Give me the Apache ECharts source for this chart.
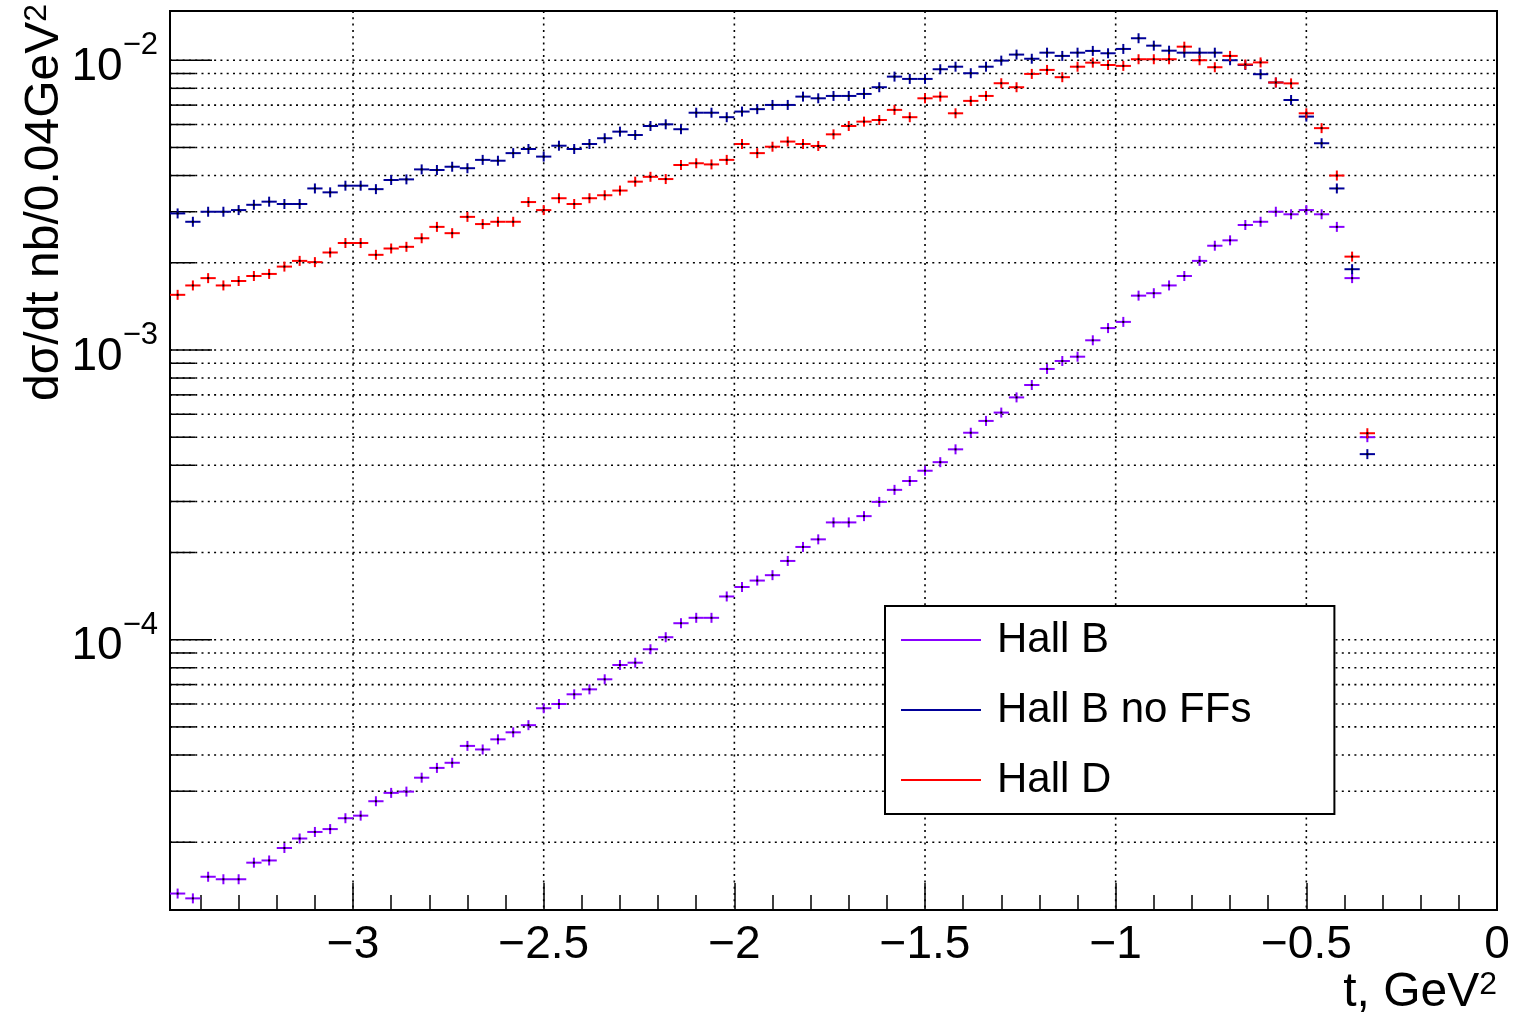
<!DOCTYPE html>
<html>
<head>
<meta charset="utf-8">
<script src="https://cdn.jsdelivr.net/npm/echarts@6/dist/echarts.min.js"></script>
<style>
html, body { margin: 0; padding: 0; background: #fff; }
#chart { width: 1515px; height: 1019px; }
</style>
</head>
<body>
<div id="chart"></div>
<script>
// bin centres, t in GeV^2 (bins of 0.04)
var tBins = [-3.46, -3.42, -3.38, -3.34, -3.30, -3.26, -3.22, -3.18, -3.14, -3.10,
             -3.06, -3.02, -2.98, -2.94, -2.90, -2.86, -2.82, -2.78, -2.74, -2.70,
             -2.66, -2.62, -2.58, -2.54, -2.50, -2.46, -2.42, -2.38, -2.34, -2.30,
             -2.26, -2.22, -2.18, -2.14, -2.10, -2.06, -2.02, -1.98, -1.94, -1.90,
             -1.86, -1.82, -1.78, -1.74, -1.70, -1.66, -1.62, -1.58, -1.54, -1.50,
             -1.46, -1.42, -1.38, -1.34, -1.30, -1.26, -1.22, -1.18, -1.14, -1.10,
             -1.06, -1.02, -0.98, -0.94, -0.90, -0.86, -0.82, -0.78, -0.74, -0.70,
             -0.66, -0.62, -0.58, -0.54, -0.50, -0.46, -0.42, -0.38, -0.34];

var hallB = [1.33e-5, 1.28e-5, 1.52e-5, 1.49e-5, 1.49e-5, 1.70e-5, 1.73e-5, 1.91e-5, 2.06e-5, 2.17e-5,
             2.22e-5, 2.42e-5, 2.47e-5, 2.77e-5, 2.96e-5, 2.99e-5, 3.34e-5, 3.61e-5, 3.76e-5, 4.30e-5,
             4.18e-5, 4.53e-5, 4.79e-5, 5.07e-5, 5.80e-5, 6.00e-5, 6.48e-5, 6.74e-5, 7.30e-5, 8.18e-5,
             8.33e-5, 9.27e-5, 1.02e-4, 1.14e-4, 1.19e-4, 1.19e-4, 1.41e-4, 1.52e-4, 1.60e-4, 1.67e-4,
             1.87e-4, 2.09e-4, 2.22e-4, 2.54e-4, 2.54e-4, 2.67e-4, 2.99e-4, 3.29e-4, 3.53e-4, 3.83e-4,
             4.10e-4, 4.54e-4, 5.18e-4, 5.69e-4, 6.08e-4, 6.86e-4, 7.57e-4, 8.60e-4, 9.16e-4, 9.48e-4,
             1.08e-3, 1.19e-3, 1.25e-3, 1.54e-3, 1.57e-3, 1.67e-3, 1.80e-3, 2.03e-3, 2.29e-3, 2.39e-3,
             2.70e-3, 2.77e-3, 3.00e-3, 2.94e-3, 3.04e-3, 2.94e-3, 2.66e-3, 1.77e-3, 5.00e-4];

var hallBnoFF = [2.96e-3, 2.77e-3, 3.00e-3, 3.00e-3, 3.04e-3, 3.17e-3, 3.25e-3, 3.19e-3, 3.19e-3, 3.61e-3,
                 3.50e-3, 3.69e-3, 3.69e-3, 3.59e-3, 3.86e-3, 3.88e-3, 4.20e-3, 4.18e-3, 4.29e-3, 4.24e-3,
                 4.53e-3, 4.50e-3, 4.78e-3, 4.94e-3, 4.65e-3, 5.07e-3, 4.94e-3, 5.14e-3, 5.38e-3, 5.67e-3,
                 5.52e-3, 5.93e-3, 6.01e-3, 5.78e-3, 6.59e-3, 6.59e-3, 6.36e-3, 6.65e-3, 6.78e-3, 7.01e-3,
                 7.01e-3, 7.49e-3, 7.39e-3, 7.53e-3, 7.53e-3, 7.65e-3, 8.07e-3, 8.78e-3, 8.62e-3, 8.62e-3,
                 9.31e-3, 9.50e-3, 9.02e-3, 9.50e-3, 9.97e-3, 1.046e-2, 1.012e-2, 1.062e-2, 1.035e-2, 1.062e-2,
                 1.077e-2, 1.057e-2, 1.094e-2, 1.191e-2, 1.123e-2, 1.079e-2, 1.062e-2, 1.062e-2, 1.062e-2, 1.00e-2,
                 9.63e-3, 8.95e-3, 8.38e-3, 7.29e-3, 6.39e-3, 5.17e-3, 3.61e-3, 1.90e-3, 4.37e-4];

var hallD = [1.55e-3, 1.67e-3, 1.77e-3, 1.67e-3, 1.73e-3, 1.80e-3, 1.83e-3, 1.94e-3, 2.03e-3, 2.01e-3,
             2.17e-3, 2.34e-3, 2.34e-3, 2.13e-3, 2.24e-3, 2.27e-3, 2.43e-3, 2.66e-3, 2.53e-3, 2.88e-3,
             2.72e-3, 2.77e-3, 2.77e-3, 3.24e-3, 3.04e-3, 3.34e-3, 3.19e-3, 3.34e-3, 3.42e-3, 3.55e-3,
             3.81e-3, 3.96e-3, 3.89e-3, 4.35e-3, 4.41e-3, 4.37e-3, 4.53e-3, 5.14e-3, 4.78e-3, 5.03e-3,
             5.24e-3, 5.14e-3, 5.06e-3, 5.55e-3, 5.93e-3, 6.14e-3, 6.22e-3, 6.74e-3, 6.36e-3, 7.39e-3,
             7.49e-3, 6.56e-3, 7.24e-3, 7.53e-3, 8.33e-3, 8.07e-3, 8.97e-3, 9.26e-3, 8.74e-3, 9.50e-3,
             9.81e-3, 9.63e-3, 9.56e-3, 1.008e-2, 1.008e-2, 1.008e-2, 1.114e-2, 1.000e-2, 9.46e-3, 1.035e-2,
             9.67e-3, 9.83e-3, 8.38e-3, 8.32e-3, 6.56e-3, 5.83e-3, 4.00e-3, 2.10e-3, 5.16e-4];

// axis ticks
var xMajorTicks = [-3, -2.5, -2, -1.5, -1, -0.5, 0];
var xMinorTicks = [-3.4, -3.3, -3.2, -3.1, -2.9, -2.8, -2.7, -2.6, -2.4, -2.3, -2.2, -2.1,
                   -1.9, -1.8, -1.7, -1.6, -1.4, -1.3, -1.2, -1.1, -0.9, -0.8, -0.7, -0.6,
                   -0.4, -0.3, -0.2, -0.1];
var yMajorTicks = [1e-4, 1e-3, 1e-2];
var yMinorTicks = [2e-5, 3e-5, 4e-5, 5e-5, 6e-5, 7e-5, 8e-5, 9e-5,
                   2e-4, 3e-4, 4e-4, 5e-4, 6e-4, 7e-4, 8e-4, 9e-4,
                   2e-3, 3e-3, 4e-3, 5e-3, 6e-3, 7e-3, 8e-3, 9e-3];

var X_MIN = -3.48, X_MAX = 0;
var Y_MIN = 1.167e-5, Y_MAX = 1.479e-2;
var HALF_BIN = 0.02;
var FONT = '"Liberation Sans", Arial, Helvetica, sans-serif';

var myChart = echarts.init(document.getElementById('chart'));

function toPairs(vals) {
    var out = [];
    for (var i = 0; i < vals.length; i++) {
        out.push([tBins[i], vals[i]]);
    }
    return out;
}

// ROOT style "E" marker: bin-width bar + error bar + dot
function renderCross(params, api) {
    var t = api.value(0), v = api.value(1);
    var a = api.coord([t - HALF_BIN, v]);
    var b = api.coord([t + HALF_BIN, v]);
    var c = api.coord([t, v]);
    var color = api.visual('color');
    var err = 5;
    return {
        type: 'group',
        children: [
            { type: 'line', shape: { x1: a[0], y1: a[1], x2: b[0], y2: b[1] },
              style: { stroke: color, lineWidth: 2 } },
            { type: 'line', shape: { x1: c[0], y1: c[1] - err, x2: c[0], y2: c[1] + err },
              style: { stroke: color, lineWidth: 2 } },
            { type: 'rect', shape: { x: c[0] - 1, y: c[1] - 1, width: 2, height: 2 },
              style: { fill: '#000' } }
        ]
    };
}

var dotStyle = { stroke: '#000', lineWidth: 1.6, lineDash: [2, 4.3] };

// dotted horizontal grid + inside y ticks (major 42px, minor 25px)
function renderYGrid(params, api) {
    var cs = params.coordSys;
    var y = api.coord([X_MIN, api.value(1)])[1];
    var len = api.value(2) ? 42 : 25;
    return {
        type: 'group',
        children: [
            { type: 'line', shape: { x1: cs.x, y1: y, x2: cs.x + cs.width, y2: y }, style: dotStyle },
            { type: 'line', shape: { x1: cs.x, y1: y, x2: cs.x + len, y2: y },
              style: { stroke: '#000', lineWidth: 1.5 } }
        ]
    };
}

// dotted vertical grid at major t ticks
function renderXGrid(params, api) {
    var cs = params.coordSys;
    var x = api.coord([api.value(0), Y_MIN])[0];
    return {
        type: 'line', shape: { x1: x, y1: cs.y, x2: x, y2: cs.y + cs.height }, style: dotStyle
    };
}

var yGridData = [];
yMajorTicks.forEach(function (v) { yGridData.push([X_MIN, v, 1]); });
yMinorTicks.forEach(function (v) { yGridData.push([X_MIN, v, 0]); });
var xGridData = [];
xMajorTicks.slice(0, -1).forEach(function (t) { xGridData.push([t, Y_MIN]); });

var option = {
    animation: false,
    backgroundColor: '#fff',
    grid: {
        left: 170, right: 18, top: 11, bottom: 109,
        outerBoundsMode: 'none', containLabel: false,
        show: true, borderColor: '#000', borderWidth: 2, backgroundColor: 'transparent'
    },
    xAxis: [{
        type: 'value', min: X_MIN, max: X_MAX,
        axisLine: { show: false },
        splitLine: { show: false },
        axisTick: { inside: true, length: 27, customValues: xMajorTicks, lineStyle: { color: '#000', width: 1.5 } },
        axisLabel: {
            customValues: xMajorTicks, margin: 12,
            fontFamily: FONT, fontSize: 46, color: '#000',
            formatter: function (v) { return v === 0 ? '0' : '\u2212' + Math.abs(v); }
        }
    }, {
        type: 'value', min: X_MIN, max: X_MAX, position: 'bottom', offset: 0,
        axisLine: { show: false },
        splitLine: { show: false },
        axisLabel: { show: false },
        axisTick: { inside: true, length: 15, customValues: xMinorTicks, lineStyle: { color: '#000', width: 1.5 } }
    }],
    yAxis: [{
        type: 'log', logBase: 10, min: Y_MIN, max: Y_MAX, position: 'left',
        axisLine: { show: false },
        splitLine: { show: false },
        axisTick: { show: false },
        axisLabel: {
            customValues: yMajorTicks, margin: 12,
            formatter: function (v) {
                var e = Math.round(Math.log10(v));
                return '{b|10}{s|\u2212' + Math.abs(e) + '}';
            },
            rich: {
                b: { fontFamily: FONT, fontSize: 46, color: '#000', lineHeight: 60, verticalAlign: 'bottom' },
                s: { fontFamily: FONT, fontSize: 31, color: '#000', lineHeight: 60, verticalAlign: 'top' }
            }
        }
    }],
    legend: {
        orient: 'vertical', left: 885, top: 606,
        padding: [9, 83, 9, 16],
        itemWidth: 80, itemHeight: 2, itemGap: 20,
        backgroundColor: '#fff', borderColor: '#000', borderWidth: 2, borderRadius: 0,
        textStyle: { fontFamily: FONT, fontSize: 42, color: '#000', lineHeight: 50, padding: [0, 0, 0, 11] },
        data: [
            { name: 'Hall B', icon: 'rect' },
            { name: 'Hall B no FFs', icon: 'rect' },
            { name: 'Hall D', icon: 'rect' }
        ]
    },
    graphic: [{
        type: 'text', x: 45, y: 4, rotation: Math.PI / 2, z: 10,
        style: {
            text: 'd\u03c3/dt nb/0.04GeV{sup|2}',
            fontFamily: FONT, fontSize: 48, fill: '#000',
            align: 'right', verticalAlign: 'middle',
            rich: { sup: { fontFamily: FONT, fontSize: 32, fill: '#000', verticalAlign: 'top' } }
        }
    }, {
        type: 'text', x: 1497, y: 993, z: 10,
        style: {
            text: 't, GeV{sup|2}',
            fontFamily: FONT, fontSize: 48, fill: '#000',
            align: 'right', verticalAlign: 'middle',
            rich: { sup: { fontFamily: FONT, fontSize: 32, fill: '#000', verticalAlign: 'top' } }
        }
    }],
    series: [{
        name: 'yGrid', type: 'custom', renderItem: renderYGrid, z: 1, silent: true,
        encode: { x: 0, y: 1 },
        data: yGridData
    }, {
        name: 'xGrid', type: 'custom', renderItem: renderXGrid, z: 1, silent: true,
        encode: { x: 0, y: 1 },
        data: xGridData
    }, {
        name: 'Hall B', type: 'custom', renderItem: renderCross, z: 3,
        itemStyle: { color: '#8800ff' },
        encode: { x: 0, y: 1 },
        data: toPairs(hallB)
    }, {
        name: 'Hall B no FFs', type: 'custom', renderItem: renderCross, z: 3,
        itemStyle: { color: '#000099' },
        encode: { x: 0, y: 1 },
        data: toPairs(hallBnoFF)
    }, {
        name: 'Hall D', type: 'custom', renderItem: renderCross, z: 3,
        itemStyle: { color: '#ff0000' },
        encode: { x: 0, y: 1 },
        data: toPairs(hallD)
    }]
};

myChart.setOption(option);
</script>
</body>
</html>
